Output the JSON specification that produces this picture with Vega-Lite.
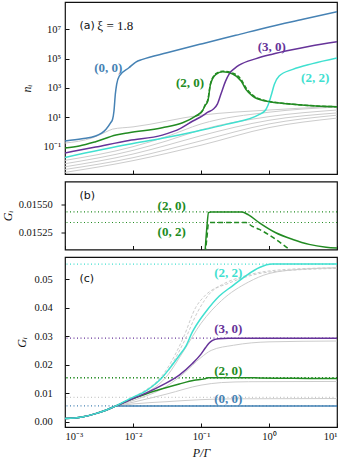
{
  "$schema": "https://vega.github.io/schema/vega-lite/v6.json",
  "background": "white",
  "padding": {"left": 0, "top": 1, "right": 3, "bottom": 1},
  "bounds": "flush",
  "spacing": 7.5,
  "config": {
    "font": "Liberation Serif",
    "view": {"stroke": "#111", "strokeWidth": 1.2},
    "axis": {
      "grid": false, "domain": false, "tickColor": "#111", "tickSize": -4, "tickWidth": 1,
      "labelFont": "Liberation Serif", "labelFontSize": 10.5, "labelColor": "#111",
      "titleFont": "Liberation Serif", "titleFontSize": 12, "titleFontStyle": "italic", "titleFontWeight": "normal", "titleColor": "#111"
    },
    "line": {"interpolate": "monotone"}
  },
  "datasets": {
    "na": [
      {"s": "(0, 0)", "x": 0.001, "y": 0.245}, {"s": "(0, 0)", "x": 0.00178, "y": 0.347}, {"s": "(0, 0)", "x": 0.00282, "y": 0.537},
      {"s": "(0, 0)", "x": 0.00398, "y": 1.51}, {"s": "(0, 0)", "x": 0.00468, "y": 4.17}, {"s": "(0, 0)", "x": 0.00501, "y": 7.41},
      {"s": "(0, 0)", "x": 0.00525, "y": 26.9}, {"s": "(0, 0)", "x": 0.0055, "y": 389}, {"s": "(0, 0)", "x": 0.00575, "y": 1780},
      {"s": "(0, 0)", "x": 0.00631, "y": 6610}, {"s": "(0, 0)", "x": 0.00871, "y": 24000}, {"s": "(0, 0)", "x": 0.011, "y": 58900},
      {"s": "(0, 0)", "x": 0.0138, "y": 89100}, {"s": "(0, 0)", "x": 0.0316, "y": 251000}, {"s": "(0, 0)", "x": 0.105, "y": 1050000},
      {"s": "(0, 0)", "x": 0.324, "y": 3890000}, {"s": "(0, 0)", "x": 1, "y": 14500000}, {"s": "(0, 0)", "x": 3.16, "y": 47900000},
      {"s": "(0, 0)", "x": 10, "y": 158000000},

      {"s": "(2, 0)", "x": 0.001, "y": 0.0813}, {"s": "(2, 0)", "x": 0.00162, "y": 0.112}, {"s": "(2, 0)", "x": 0.00282, "y": 0.219},
      {"s": "(2, 0)", "x": 0.00562, "y": 0.617}, {"s": "(2, 0)", "x": 0.00871, "y": 0.891}, {"s": "(2, 0)", "x": 0.0269, "y": 1.95},
      {"s": "(2, 0)", "x": 0.0537, "y": 4.27}, {"s": "(2, 0)", "x": 0.0832, "y": 12.3}, {"s": "(2, 0)", "x": 0.105, "y": 28.2},
      {"s": "(2, 0)", "x": 0.115, "y": 63.1}, {"s": "(2, 0)", "x": 0.126, "y": 129}, {"s": "(2, 0)", "x": 0.138, "y": 1780},
      {"s": "(2, 0)", "x": 0.166, "y": 8510}, {"s": "(2, 0)", "x": 0.209, "y": 12900}, {"s": "(2, 0)", "x": 0.288, "y": 9330},
      {"s": "(2, 0)", "x": 0.389, "y": 3020}, {"s": "(2, 0)", "x": 0.457, "y": 813}, {"s": "(2, 0)", "x": 0.575, "y": 282},
      {"s": "(2, 0)", "x": 0.891, "y": 129}, {"s": "(2, 0)", "x": 2.24, "y": 77.6}, {"s": "(2, 0)", "x": 4.9, "y": 58.9},
      {"s": "(2, 0)", "x": 10, "y": 52.5},

      {"s": "(0, 2)", "x": 0.0832, "y": 12.3}, {"s": "(0, 2)", "x": 0.105, "y": 28.2}, {"s": "(0, 2)", "x": 0.115, "y": 70.8},
      {"s": "(0, 2)", "x": 0.126, "y": 158}, {"s": "(0, 2)", "x": 0.138, "y": 2000}, {"s": "(0, 2)", "x": 0.166, "y": 9550},
      {"s": "(0, 2)", "x": 0.209, "y": 14100}, {"s": "(0, 2)", "x": 0.288, "y": 10700}, {"s": "(0, 2)", "x": 0.389, "y": 3800},
      {"s": "(0, 2)", "x": 0.457, "y": 1050}, {"s": "(0, 2)", "x": 0.575, "y": 331}, {"s": "(0, 2)", "x": 0.891, "y": 138},
      {"s": "(0, 2)", "x": 2.24, "y": 79.4}, {"s": "(0, 2)", "x": 4.9, "y": 60.3}, {"s": "(0, 2)", "x": 10, "y": 52.5},

      {"s": "(3, 0)", "x": 0.001, "y": 0.0372}, {"s": "(3, 0)", "x": 0.00282, "y": 0.0955}, {"s": "(3, 0)", "x": 0.00871, "y": 0.269},
      {"s": "(3, 0)", "x": 0.0269, "y": 0.617}, {"s": "(3, 0)", "x": 0.0501, "y": 1.78}, {"s": "(3, 0)", "x": 0.0759, "y": 5.62},
      {"s": "(3, 0)", "x": 0.105, "y": 12.6}, {"s": "(3, 0)", "x": 0.126, "y": 22.4}, {"s": "(3, 0)", "x": 0.151, "y": 35.5},
      {"s": "(3, 0)", "x": 0.174, "y": 79.4}, {"s": "(3, 0)", "x": 0.2, "y": 501}, {"s": "(3, 0)", "x": 0.229, "y": 2820},
      {"s": "(3, 0)", "x": 0.263, "y": 10000}, {"s": "(3, 0)", "x": 0.316, "y": 22400}, {"s": "(3, 0)", "x": 0.363, "y": 35500},
      {"s": "(3, 0)", "x": 0.646, "y": 100000}, {"s": "(3, 0)", "x": 1.12, "y": 200000}, {"s": "(3, 0)", "x": 2.0, "y": 372000},
      {"s": "(3, 0)", "x": 3.98, "y": 708000}, {"s": "(3, 0)", "x": 10, "y": 1410000},

      {"s": "(2, 2)", "x": 0.001, "y": 0.0186}, {"s": "(2, 2)", "x": 0.00871, "y": 0.145}, {"s": "(2, 2)", "x": 0.0269, "y": 0.372},
      {"s": "(2, 2)", "x": 0.0832, "y": 1.1}, {"s": "(2, 2)", "x": 0.234, "y": 3.31}, {"s": "(2, 2)", "x": 0.724, "y": 15.8},
      {"s": "(2, 2)", "x": 0.891, "y": 31.6}, {"s": "(2, 2)", "x": 0.955, "y": 58.9}, {"s": "(2, 2)", "x": 1.07, "y": 282},
      {"s": "(2, 2)", "x": 1.2, "y": 1780}, {"s": "(2, 2)", "x": 1.41, "y": 6610}, {"s": "(2, 2)", "x": 2.24, "y": 18600},
      {"s": "(2, 2)", "x": 4.37, "y": 45700}, {"s": "(2, 2)", "x": 10, "y": 110000},

      {"s": "g1", "x": 0.001, "y": 0.178}, {"s": "g1", "x": 0.00251, "y": 0.398}, {"s": "g1", "x": 0.00398, "y": 1.0},
      {"s": "g1", "x": 0.00501, "y": 1.58}, {"s": "g1", "x": 0.01, "y": 2.24}, {"s": "g1", "x": 0.1, "y": 14.1},
      {"s": "g1", "x": 1, "y": 31.6}, {"s": "g1", "x": 10, "y": 56.2},
      {"s": "g2", "x": 0.001, "y": 0.0117}, {"s": "g2", "x": 0.01, "y": 0.1}, {"s": "g2", "x": 0.0316, "y": 0.501},
      {"s": "g2", "x": 0.1, "y": 3.55}, {"s": "g2", "x": 1, "y": 22.4}, {"s": "g2", "x": 10, "y": 50.1},
      {"s": "g3", "x": 0.001, "y": 0.00692}, {"s": "g3", "x": 0.01, "y": 0.0562}, {"s": "g3", "x": 0.0316, "y": 0.251},
      {"s": "g3", "x": 0.1, "y": 1.41}, {"s": "g3", "x": 1, "y": 11.2}, {"s": "g3", "x": 10, "y": 31.6},
      {"s": "g4", "x": 0.001, "y": 0.00427}, {"s": "g4", "x": 0.01, "y": 0.0316}, {"s": "g4", "x": 0.0316, "y": 0.126},
      {"s": "g4", "x": 0.1, "y": 0.562}, {"s": "g4", "x": 1, "y": 6.31}, {"s": "g4", "x": 10, "y": 20},
      {"s": "g5", "x": 0.001, "y": 0.00282}, {"s": "g5", "x": 0.01, "y": 0.0178}, {"s": "g5", "x": 0.0316, "y": 0.0631},
      {"s": "g5", "x": 0.1, "y": 0.251}, {"s": "g5", "x": 1, "y": 3.55}, {"s": "g5", "x": 10, "y": 14.1},
      {"s": "g6", "x": 0.001, "y": 0.00178}, {"s": "g6", "x": 0.01, "y": 0.0112}, {"s": "g6", "x": 0.0316, "y": 0.0355},
      {"s": "g6", "x": 0.1, "y": 0.126}, {"s": "g6", "x": 1, "y": 2.0}, {"s": "g6", "x": 10, "y": 8.91}
    ],
    "gc": [
      {"s": "(0, 0)", "x": 0.001, "y": 0.00105}, {"s": "(0, 0)", "x": 0.00178, "y": 0.00165}, {"s": "(0, 0)", "x": 0.00282, "y": 0.0028},
      {"s": "(0, 0)", "x": 0.00398, "y": 0.004}, {"s": "(0, 0)", "x": 0.00562, "y": 0.0055}, {"s": "(0, 0)", "x": 10, "y": 0.0055},

      {"s": "(2, 0)", "x": 0.001, "y": 0.00105}, {"s": "(2, 0)", "x": 0.00178, "y": 0.00165}, {"s": "(2, 0)", "x": 0.00282, "y": 0.0028},
      {"s": "(2, 0)", "x": 0.00398, "y": 0.004}, {"s": "(2, 0)", "x": 0.00562, "y": 0.0055}, {"s": "(2, 0)", "x": 0.00871, "y": 0.0075},
      {"s": "(2, 0)", "x": 0.0155, "y": 0.0097}, {"s": "(2, 0)", "x": 0.0269, "y": 0.0115}, {"s": "(2, 0)", "x": 0.0479, "y": 0.0132},
      {"s": "(2, 0)", "x": 0.0794, "y": 0.0145}, {"s": "(2, 0)", "x": 0.112, "y": 0.0150}, {"s": "(2, 0)", "x": 0.122, "y": 0.0153},
      {"s": "(2, 0)", "x": 0.129, "y": 0.01543}, {"s": "(2, 0)", "x": 0.14, "y": 0.015437}, {"s": "(2, 0)", "x": 0.40, "y": 0.015437},
      {"s": "(2, 0)", "x": 0.50, "y": 0.01541}, {"s": "(2, 0)", "x": 0.724, "y": 0.015339}, {"s": "(2, 0)", "x": 1.26, "y": 0.01525},
      {"s": "(2, 0)", "x": 2.24, "y": 0.01519}, {"s": "(2, 0)", "x": 3.89, "y": 0.015146}, {"s": "(2, 0)", "x": 6.92, "y": 0.015121},
      {"s": "(2, 0)", "x": 10, "y": 0.015113},

      {"s": "(0, 2)", "x": 0.0794, "y": 0.0145}, {"s": "(0, 2)", "x": 0.112, "y": 0.0150}, {"s": "(0, 2)", "x": 0.122, "y": 0.0152},
      {"s": "(0, 2)", "x": 0.129, "y": 0.015335}, {"s": "(0, 2)", "x": 0.14, "y": 0.015342}, {"s": "(0, 2)", "x": 0.457, "y": 0.015342},
      {"s": "(0, 2)", "x": 0.56, "y": 0.01531}, {"s": "(0, 2)", "x": 0.724, "y": 0.01528}, {"s": "(0, 2)", "x": 1.26, "y": 0.01519},
      {"s": "(0, 2)", "x": 2.0, "y": 0.0151}, {"s": "(0, 2)", "x": 3.98, "y": 0.01498}, {"s": "(0, 2)", "x": 10, "y": 0.0149},

      {"s": "(3, 0)", "x": 0.001, "y": 0.00105}, {"s": "(3, 0)", "x": 0.00178, "y": 0.00165}, {"s": "(3, 0)", "x": 0.00282, "y": 0.0028},
      {"s": "(3, 0)", "x": 0.00398, "y": 0.004}, {"s": "(3, 0)", "x": 0.00562, "y": 0.0055}, {"s": "(3, 0)", "x": 0.00871, "y": 0.0075},
      {"s": "(3, 0)", "x": 0.0155, "y": 0.0100}, {"s": "(3, 0)", "x": 0.0269, "y": 0.0128}, {"s": "(3, 0)", "x": 0.0479, "y": 0.0163},
      {"s": "(3, 0)", "x": 0.0741, "y": 0.0203}, {"s": "(3, 0)", "x": 0.1, "y": 0.0237}, {"s": "(3, 0)", "x": 0.117, "y": 0.0260},
      {"s": "(3, 0)", "x": 0.132, "y": 0.0276}, {"s": "(3, 0)", "x": 0.148, "y": 0.0285}, {"s": "(3, 0)", "x": 0.178, "y": 0.0291},
      {"s": "(3, 0)", "x": 0.251, "y": 0.0293}, {"s": "(3, 0)", "x": 10, "y": 0.0293},

      {"s": "(2, 2)", "x": 0.001, "y": 0.00105}, {"s": "(2, 2)", "x": 0.00178, "y": 0.00165}, {"s": "(2, 2)", "x": 0.00282, "y": 0.0028},
      {"s": "(2, 2)", "x": 0.00398, "y": 0.004}, {"s": "(2, 2)", "x": 0.00562, "y": 0.0055}, {"s": "(2, 2)", "x": 0.00871, "y": 0.0079},
      {"s": "(2, 2)", "x": 0.0155, "y": 0.0108}, {"s": "(2, 2)", "x": 0.0195, "y": 0.0125}, {"s": "(2, 2)", "x": 0.0269, "y": 0.0155},
      {"s": "(2, 2)", "x": 0.0339, "y": 0.0184}, {"s": "(2, 2)", "x": 0.0479, "y": 0.0232}, {"s": "(2, 2)", "x": 0.0603, "y": 0.0266},
      {"s": "(2, 2)", "x": 0.0741, "y": 0.0313}, {"s": "(2, 2)", "x": 0.105, "y": 0.0370}, {"s": "(2, 2)", "x": 0.117, "y": 0.0385},
      {"s": "(2, 2)", "x": 0.186, "y": 0.0441}, {"s": "(2, 2)", "x": 0.288, "y": 0.0476}, {"s": "(2, 2)", "x": 0.457, "y": 0.0512},
      {"s": "(2, 2)", "x": 0.724, "y": 0.0541}, {"s": "(2, 2)", "x": 1.12, "y": 0.0553}, {"s": "(2, 2)", "x": 10, "y": 0.0553},

      {"s": "c1", "x": 0.00562, "y": 0.0055}, {"s": "c1", "x": 0.01, "y": 0.0062}, {"s": "c1", "x": 0.0316, "y": 0.0070},
      {"s": "c1", "x": 0.1, "y": 0.0077}, {"s": "c1", "x": 0.316, "y": 0.0080}, {"s": "c1", "x": 10, "y": 0.0081},
      {"s": "c2", "x": 0.00562, "y": 0.0055}, {"s": "c2", "x": 0.01, "y": 0.0068}, {"s": "c2", "x": 0.0316, "y": 0.0097},
      {"s": "c2", "x": 0.1, "y": 0.0128}, {"s": "c2", "x": 0.2, "y": 0.0137}, {"s": "c2", "x": 0.5, "y": 0.0140}, {"s": "c2", "x": 10, "y": 0.0141},
      {"s": "c3", "x": 0.00562, "y": 0.0055}, {"s": "c3", "x": 0.01, "y": 0.0074}, {"s": "c3", "x": 0.0316, "y": 0.0125},
      {"s": "c3", "x": 0.0562, "y": 0.0170}, {"s": "c3", "x": 0.1, "y": 0.0225}, {"s": "c3", "x": 0.141, "y": 0.0250},
      {"s": "c3", "x": 0.3, "y": 0.0268}, {"s": "c3", "x": 1, "y": 0.0280}, {"s": "c3", "x": 10, "y": 0.0283},
      {"s": "c4", "x": 0.00562, "y": 0.0055}, {"s": "c4", "x": 0.01, "y": 0.0085}, {"s": "c4", "x": 0.0316, "y": 0.0185},
      {"s": "c4", "x": 0.0562, "y": 0.0300}, {"s": "c4", "x": 0.0832, "y": 0.0400}, {"s": "c4", "x": 0.112, "y": 0.0440},
      {"s": "c4", "x": 0.2, "y": 0.0480}, {"s": "c4", "x": 0.5, "y": 0.0515}, {"s": "c4", "x": 2, "y": 0.0535}, {"s": "c4", "x": 10, "y": 0.0540},
      {"s": "c5", "x": 0.00562, "y": 0.0055}, {"s": "c5", "x": 0.01, "y": 0.0083}, {"s": "c5", "x": 0.0316, "y": 0.0175},
      {"s": "c5", "x": 0.0562, "y": 0.0280}, {"s": "c5", "x": 0.0891, "y": 0.0385}, {"s": "c5", "x": 0.141, "y": 0.0455},
      {"s": "c5", "x": 0.251, "y": 0.0485}, {"s": "c5", "x": 1, "y": 0.0525}, {"s": "c5", "x": 10, "y": 0.0538},
      {"s": "c6", "x": 0.00562, "y": 0.0055}, {"s": "c6", "x": 0.01, "y": 0.0080}, {"s": "c6", "x": 0.0316, "y": 0.0160},
      {"s": "c6", "x": 0.0562, "y": 0.0250}, {"s": "c6", "x": 0.1, "y": 0.0345}, {"s": "c6", "x": 0.2, "y": 0.0425},
      {"s": "c6", "x": 0.5, "y": 0.0490}, {"s": "c6", "x": 1, "y": 0.0520}, {"s": "c6", "x": 3, "y": 0.0535}, {"s": "c6", "x": 10, "y": 0.0540}
    ],
    "dots": [
      {"s": "g", "y": 0.0085}, {"s": "(0, 0)", "y": 0.0055}, {"s": "(2, 0)", "y": 0.015437},
      {"s": "(0, 2)", "y": 0.015342}, {"s": "(3, 0)", "y": 0.0293}, {"s": "(2, 2)", "y": 0.0553}
    ],
    "labels": [
      {"p": "a", "s": "(0, 0)", "x": 0.00432, "y": 21400, "t": "(0, 0)"},
      {"p": "a", "s": "(2, 0)", "x": 0.0689, "y": 2290, "t": "(2, 0)"},
      {"p": "a", "s": "(3, 0)", "x": 1.1, "y": 646000, "t": "(3, 0)"},
      {"p": "a", "s": "(2, 2)", "x": 4.78, "y": 4470, "t": "(2, 2)"},
      {"p": "b", "s": "(2, 0)", "x": 0.037, "y": 0.015492, "t": "(2, 0)"},
      {"p": "b", "s": "(0, 2)", "x": 0.037, "y": 0.015254, "t": "(0, 2)"},
      {"p": "c", "s": "(2, 2)", "x": 0.252, "y": 0.0523, "t": "(2, 2)"},
      {"p": "c", "s": "(3, 0)", "x": 0.252, "y": 0.0324, "t": "(3, 0)"},
      {"p": "c", "s": "(2, 0)", "x": 0.252, "y": 0.0178, "t": "(2, 0)"},
      {"p": "c", "s": "(0, 0)", "x": 0.252, "y": 0.00786, "t": "(0, 0)"}
    ],
    "tags": [
      {"p": "a", "x": 0.00163, "y": 16700000, "t": "(a)"},
      {"p": "b", "x": 0.00163, "y": 0.015583, "t": "(b)"},
      {"p": "c", "x": 0.00163, "y": 0.0501, "t": "(c)"}
    ],
    "xi": [{"x": 0.00299, "y": 16700000, "t": "ξ = 1.8"}]
  },
  "vconcat": [
    {
      "width": 272, "height": 172,
      "encoding": {
        "x": {"field": "x", "type": "quantitative", "scale": {"type": "log", "domain": [0.001, 10], "nice": false},
              "axis": {"values": [0.001, 0.01, 0.1, 1, 10], "labels": false, "title": null}},
        "y": {"field": "y", "type": "quantitative", "scale": {"type": "log", "domain": [0.00138, 724000000], "nice": false},
              "axis": {"values": [0.1, 10, 1000, 100000, 10000000], "title": "nᵢ", "labelPadding": 8.4, "titlePadding": 9,
                       "labelExpr": "'10' + (round(log(datum.value)/LN10) < 0 ? '⁻' : '') + ['⁰','¹','²','³','⁴','⁵','⁶','⁷','⁸','⁹'][abs(round(log(datum.value)/LN10))]"}}
      },
      "layer": [
        {"data": {"name": "na"}, "transform": [{"filter": {"field": "s", "oneOf": ["g1", "g2", "g3", "g4", "g5", "g6"]}}],
         "mark": {"type": "line", "color": "#cccccc", "strokeWidth": 1, "clip": true},
         "encoding": {"detail": {"field": "s"}}},
        {"data": {"name": "na"}, "transform": [{"filter": {"field": "s", "oneOf": ["(0, 0)", "(2, 0)", "(3, 0)", "(2, 2)"]}}],
         "mark": {"type": "line", "strokeWidth": 1.5, "clip": true},
         "encoding": {"color": {"field": "s", "type": "nominal", "legend": null,
           "scale": {"domain": ["(0, 0)", "(2, 0)", "(0, 2)", "(3, 0)", "(2, 2)", "g"], "range": ["#4682b4", "#228b22", "#228b22", "#663399", "#40e0d0", "#c8c8c8"]}}}},
        {"data": {"name": "na"}, "transform": [{"filter": {"field": "s", "equal": "(0, 2)"}}],
         "mark": {"type": "line", "strokeWidth": 1.5, "strokeDash": [4, 2], "color": "#228b22", "clip": true},
         "encoding": {}},
        {"data": {"name": "labels"}, "transform": [{"filter": {"field": "p", "equal": "a"}}],
         "mark": {"type": "text", "fontWeight": "bold", "fontSize": 13, "font": "Liberation Serif"},
         "encoding": {"text": {"field": "t"}, "color": {"field": "s", "type": "nominal", "legend": null}}},
        {"data": {"name": "tags"}, "transform": [{"filter": {"field": "p", "equal": "a"}}],
         "mark": {"type": "text", "align": "left", "font": "DejaVu Sans", "fontSize": 11, "color": "#111"},
         "encoding": {"text": {"field": "t"}}},
        {"data": {"name": "xi"},
         "mark": {"type": "text", "align": "left", "font": "Liberation Serif", "fontSize": 13, "color": "#111"},
         "encoding": {"text": {"field": "t"}}}
      ]
    },
    {
      "width": 272, "height": 68,
      "encoding": {
        "x": {"field": "x", "type": "quantitative", "scale": {"type": "log", "domain": [0.001, 10], "nice": false},
              "axis": {"values": [0.001, 0.01, 0.1, 1, 10], "labels": false, "title": null}},
        "y": {"field": "y", "type": "quantitative", "scale": {"domain": [0.0151, 0.01571], "nice": false, "zero": false},
              "axis": {"values": [0.01525, 0.0155], "format": ".5f", "title": "Gᵢ", "tickSize": 4, "labelPadding": 8.7, "titlePadding": 4}}
      },
      "layer": [
        {"data": {"name": "dots"}, "transform": [{"filter": {"field": "s", "oneOf": ["(2, 0)", "(0, 2)"]}}],
         "mark": {"type": "rule", "strokeDash": [1, 2.5], "strokeWidth": 1.2},
         "encoding": {"x": null, "color": {"field": "s", "type": "nominal", "legend": null}}},
        {"data": {"name": "gc"}, "transform": [{"filter": {"field": "s", "equal": "(2, 0)"}}],
         "mark": {"type": "line", "strokeWidth": 1.5, "color": "#228b22", "clip": true}, "encoding": {}},
        {"data": {"name": "gc"}, "transform": [{"filter": {"field": "s", "equal": "(0, 2)"}}],
         "mark": {"type": "line", "strokeWidth": 1.5, "color": "#228b22", "strokeDash": [5, 3], "clip": true}, "encoding": {}},
        {"data": {"name": "labels"}, "transform": [{"filter": {"field": "p", "equal": "b"}}],
         "mark": {"type": "text", "fontWeight": "bold", "fontSize": 13, "font": "Liberation Serif"},
         "encoding": {"text": {"field": "t"}, "color": {"field": "s", "type": "nominal", "legend": null}}},
        {"data": {"name": "tags"}, "transform": [{"filter": {"field": "p", "equal": "b"}}],
         "mark": {"type": "text", "align": "left", "font": "DejaVu Sans", "fontSize": 11, "color": "#111"},
         "encoding": {"text": {"field": "t"}}}
      ]
    },
    {
      "width": 272, "height": 170,
      "encoding": {
        "x": {"field": "x", "type": "quantitative", "scale": {"type": "log", "domain": [0.001, 10], "nice": false},
              "axis": {"values": [0.001, 0.01, 0.1, 1, 10], "title": "P/Γ", "labelPadding": 8.3, "titlePadding": 6,
                       "labelExpr": "'10' + (round(log(datum.value)/LN10) < 0 ? '⁻' : '') + ['⁰','¹','²','³','⁴','⁵','⁶','⁷','⁸','⁹'][abs(round(log(datum.value)/LN10))]"}},
        "y": {"field": "y", "type": "quantitative", "scale": {"domain": [-0.0019, 0.0578], "nice": false, "zero": false},
              "axis": {"values": [0, 0.01, 0.02, 0.03, 0.04, 0.05], "format": ".2f", "title": "Gᵢ", "labelPadding": 16.7, "titlePadding": 5}}
      },
      "layer": [
        {"data": {"name": "dots"},
         "mark": {"type": "rule", "strokeDash": [1, 2.5], "strokeWidth": 1.2},
         "encoding": {"x": null, "color": {"field": "s", "type": "nominal", "legend": null}}},
        {"data": {"name": "gc"}, "transform": [{"filter": {"field": "s", "oneOf": ["c1", "c2", "c3", "c6"]}}],
         "mark": {"type": "line", "color": "#cccccc", "strokeWidth": 1, "clip": true}, "encoding": {"detail": {"field": "s"}}},
        {"data": {"name": "gc"}, "transform": [{"filter": {"field": "s", "oneOf": ["c4", "c5"]}}],
         "mark": {"type": "line", "color": "#cccccc", "strokeWidth": 1, "strokeDash": [3, 2], "clip": true}, "encoding": {"detail": {"field": "s"}}},
        {"data": {"name": "gc"}, "transform": [{"filter": {"field": "s", "oneOf": ["(0, 0)", "(2, 0)", "(3, 0)", "(2, 2)"]}}],
         "mark": {"type": "line", "strokeWidth": 1.5, "clip": true},
         "encoding": {"color": {"field": "s", "type": "nominal", "legend": null}}},
        {"data": {"name": "labels"}, "transform": [{"filter": {"field": "p", "equal": "c"}}],
         "mark": {"type": "text", "fontWeight": "bold", "fontSize": 13, "font": "Liberation Serif"},
         "encoding": {"text": {"field": "t"}, "color": {"field": "s", "type": "nominal", "legend": null}}},
        {"data": {"name": "tags"}, "transform": [{"filter": {"field": "p", "equal": "c"}}],
         "mark": {"type": "text", "align": "left", "font": "DejaVu Sans", "fontSize": 11, "color": "#111"},
         "encoding": {"text": {"field": "t"}}}
      ]
    }
  ]
}
